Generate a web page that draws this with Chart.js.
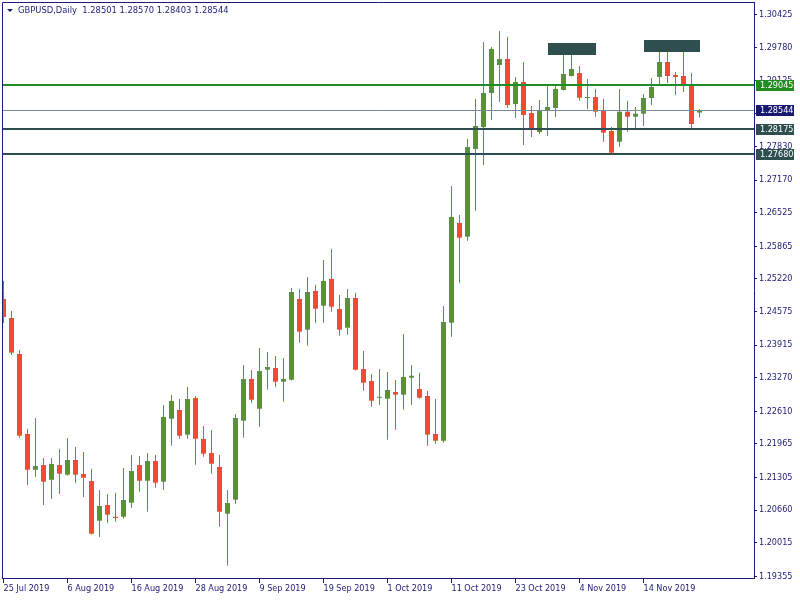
<!DOCTYPE html>
<html>
<head>
<meta charset="utf-8">
<script src="https://cdn.jsdelivr.net/npm/chart.js@4.4.1/dist/chart.umd.min.js"></script>
<style>
html, body { margin: 0; padding: 0; background: #fff; }
</style>
</head>
<body>
<canvas id="myChart" width="800" height="600"></canvas>
<script>
const symbolTitle = 'GBPUSD,Daily  1.28501 1.28570 1.28403 1.28544';

const dates = [
	'25 Jul 2019', '26 Jul 2019', '29 Jul 2019', '30 Jul 2019', '31 Jul 2019',
	'1 Aug 2019', '2 Aug 2019', '5 Aug 2019', '6 Aug 2019', '7 Aug 2019', '8 Aug 2019', '9 Aug 2019',
	'12 Aug 2019', '13 Aug 2019', '14 Aug 2019', '15 Aug 2019', '16 Aug 2019', '19 Aug 2019', '20 Aug 2019',
	'21 Aug 2019', '22 Aug 2019', '23 Aug 2019', '26 Aug 2019', '27 Aug 2019', '28 Aug 2019', '29 Aug 2019',
	'30 Aug 2019', '2 Sep 2019', '3 Sep 2019', '4 Sep 2019', '5 Sep 2019', '6 Sep 2019', '9 Sep 2019',
	'10 Sep 2019', '11 Sep 2019', '12 Sep 2019', '13 Sep 2019', '16 Sep 2019', '17 Sep 2019', '18 Sep 2019',
	'19 Sep 2019', '20 Sep 2019', '23 Sep 2019', '24 Sep 2019', '25 Sep 2019', '26 Sep 2019', '27 Sep 2019',
	'30 Sep 2019', '1 Oct 2019', '2 Oct 2019', '3 Oct 2019', '4 Oct 2019', '7 Oct 2019', '8 Oct 2019',
	'9 Oct 2019', '10 Oct 2019', '11 Oct 2019', '14 Oct 2019', '15 Oct 2019', '16 Oct 2019', '17 Oct 2019',
	'18 Oct 2019', '21 Oct 2019', '22 Oct 2019', '23 Oct 2019', '24 Oct 2019', '25 Oct 2019', '28 Oct 2019',
	'29 Oct 2019', '30 Oct 2019', '31 Oct 2019', '1 Nov 2019', '4 Nov 2019', '5 Nov 2019', '6 Nov 2019',
	'7 Nov 2019', '8 Nov 2019', '11 Nov 2019', '12 Nov 2019', '13 Nov 2019', '14 Nov 2019', '15 Nov 2019',
	'18 Nov 2019', '19 Nov 2019', '20 Nov 2019', '21 Nov 2019', '22 Nov 2019', '25 Nov 2019'
];

const opens = [
	1.24824, 1.24449, 1.23739, 1.22162, 1.21457, 1.21550, 1.21260, 1.21550, 1.21359, 1.21649,
	1.21373, 1.21235, 1.20452, 1.20761, 1.20530, 1.20530, 1.20807, 1.21550, 1.21240, 1.21629,
	1.21221, 1.22463, 1.22635, 1.22148, 1.22871, 1.22063, 1.21787, 1.21511, 1.20590, 1.20866,
	1.22424, 1.23246, 1.22660, 1.23430, 1.23463, 1.23193, 1.23232, 1.24824, 1.24219, 1.24982,
	1.24692, 1.25218, 1.24627, 1.24258, 1.24844, 1.23443, 1.23207, 1.22877, 1.22858, 1.22990,
	1.22937, 1.23272, 1.23049, 1.22911, 1.22162, 1.22029, 1.24357, 1.26323, 1.26053, 1.27782,
	1.28216, 1.28887, 1.29439, 1.29557, 1.28670, 1.29104, 1.28492, 1.28117, 1.28532, 1.28591,
	1.28946, 1.29222, 1.29281, 1.28788, 1.28808, 1.28532, 1.28137, 1.27926, 1.28518, 1.28419,
	1.28478, 1.28788, 1.29202, 1.29498, 1.29242, 1.29222, 1.29044, 1.28501
];
const highs = [
	1.25179, 1.24585, 1.23818, 1.22260, 1.22477, 1.21688, 1.21688, 1.21866, 1.22083, 1.21905,
	1.21807, 1.21471, 1.21057, 1.20978, 1.20998, 1.21491, 1.21747, 1.21728, 1.21787, 1.21747,
	1.22733, 1.22931, 1.22852, 1.23088, 1.22911, 1.22319, 1.22240, 1.21747, 1.21057, 1.22556,
	1.23522, 1.23424, 1.23858, 1.23779, 1.23700, 1.23660, 1.25041, 1.25021, 1.25258, 1.25100,
	1.25593, 1.25810, 1.24903, 1.25021, 1.24942, 1.23798, 1.23345, 1.23443, 1.23384, 1.23226,
	1.24134, 1.23522, 1.23365, 1.23009, 1.22852, 1.24686, 1.27053, 1.26481, 1.27979, 1.28768,
	1.29893, 1.29794, 1.30109, 1.29991, 1.29202, 1.29498, 1.28630, 1.28749, 1.29044, 1.29064,
	1.29754, 1.29715, 1.29419, 1.29163, 1.28966, 1.28768, 1.28216, 1.28966, 1.28729, 1.28611,
	1.28867, 1.29183, 1.29833, 1.29695, 1.29301, 1.29695, 1.29281, 1.28570
];
const lows = [
	1.24351, 1.23720, 1.22089, 1.21156, 1.21319, 1.20761, 1.20880, 1.20978, 1.21339, 1.21201,
	1.20919, 1.20179, 1.20130, 1.20412, 1.20432, 1.20491, 1.20708, 1.21024, 1.20629, 1.21102,
	1.21057, 1.21931, 1.22069, 1.22069, 1.21556, 1.21714, 1.21379, 1.20333, 1.19564, 1.20787,
	1.22089, 1.22779, 1.22305, 1.23035, 1.23094, 1.22799, 1.23216, 1.23962, 1.23903, 1.24357,
	1.24357, 1.24574, 1.24100, 1.24120, 1.23414, 1.23015, 1.22700, 1.22739, 1.22049, 1.22246,
	1.22641, 1.22739, 1.22858, 1.21931, 1.21970, 1.21990, 1.24080, 1.25145, 1.25974, 1.26565,
	1.27467, 1.28354, 1.28709, 1.28591, 1.28394, 1.27861, 1.28019, 1.28078, 1.28039, 1.28413,
	1.28936, 1.29212, 1.28735, 1.28577, 1.28419, 1.27926, 1.27664, 1.27828, 1.28123, 1.28196,
	1.28236, 1.28650, 1.29064, 1.29084, 1.28847, 1.28906, 1.28196, 1.28403
];
const closes = [
	1.24469, 1.23765, 1.22128, 1.21457, 1.21530, 1.21221, 1.21570, 1.21379, 1.21649, 1.21359,
	1.21300, 1.20195, 1.20742, 1.20570, 1.20505, 1.20860, 1.21432, 1.21240, 1.21629, 1.21201,
	1.22497, 1.22812, 1.22128, 1.22852, 1.22069, 1.21773, 1.21576, 1.20629, 1.20801, 1.22477,
	1.23246, 1.22838, 1.23404, 1.23483, 1.23193, 1.23246, 1.24962, 1.24179, 1.24962, 1.24633,
	1.25179, 1.24672, 1.24219, 1.24844, 1.23430, 1.23173, 1.22818, 1.22897, 1.23029, 1.22937,
	1.23286, 1.23311, 1.22877, 1.22148, 1.22029, 1.24370, 1.26441, 1.26033, 1.27822, 1.28236,
	1.28887, 1.29754, 1.29557, 1.28650, 1.29104, 1.28453, 1.28196, 1.28532, 1.28611, 1.28966,
	1.29261, 1.29360, 1.28794, 1.28808, 1.28518, 1.28104, 1.27709, 1.28518, 1.28419, 1.28478,
	1.28788, 1.29005, 1.29498, 1.29222, 1.29202, 1.29025, 1.28275, 1.28544
];

// right axis labels (MT4 style, unevenly rounded)
const yTickLabels = [
	'1.30425', '1.29780', '1.29125', '1.28475', '1.27830', '1.27170', '1.26525', '1.25865', '1.25220',
	'1.24575', '1.23915', '1.23270', '1.22610', '1.21965', '1.21305', '1.20660', '1.20015', '1.19355'
];

// horizontal levels drawn on chart
const levelPrices = [1.29045, 1.28175, 1.27680];
// resistance boxes: candle index from/to, price top/bottom
const zoneFrom = [68, 80];
const zoneTo = [74, 87];
const zoneTop = [1.29873, 1.29932];
const zoneBottom = [1.29636, 1.29695];

const bullColor = '#5b9132';
const bearColor = '#f14b27';
const axisColor = '#1b1b78';
const levelColors = ['#228b22', '#2f4f4f', '#2f4f4f'];
const bidLineColor = '#7d8a96';
const bidBoxColor = '#191970';
const fontFamily = '"DejaVu Sans Condensed", "DejaVu Sans", sans-serif';

const candleColors = opens.map((o, i) => closes[i] >= o ? bullColor : bearColor);

const overlay = {
	id: 'overlay',
	afterDatasetsDraw(chart) {
		const { ctx, chartArea: a, scales: { x, y } } = chart;
		ctx.save();
		ctx.beginPath();
		ctx.rect(a.left, a.top, a.right - a.left, a.bottom - a.top);
		ctx.clip();

		// bid line
		const last = closes[closes.length - 1];
		const by = Math.round(y.getPixelForValue(last)) + 0.5;
		ctx.strokeStyle = bidLineColor;
		ctx.lineWidth = 1;
		ctx.beginPath();
		ctx.moveTo(a.left, by);
		ctx.lineTo(a.right, by);
		ctx.stroke();

		levelPrices.forEach((p, i) => {
			const py = Math.round(y.getPixelForValue(p));
			ctx.strokeStyle = levelColors[i];
			ctx.lineWidth = 2;
			ctx.beginPath();
			ctx.moveTo(a.left, py);
			ctx.lineTo(a.right, py);
			ctx.stroke();
		});

		ctx.fillStyle = '#2f4f4f';
		zoneFrom.forEach((f, i) => {
			const x0 = Math.round(x.getPixelForValue(f));
			const x1 = Math.round(x.getPixelForValue(zoneTo[i]));
			const y0 = Math.round(y.getPixelForValue(zoneTop[i]));
			const y1 = Math.round(y.getPixelForValue(zoneBottom[i]));
			ctx.fillRect(x0, y0, x1 - x0, y1 - y0);
		});
		ctx.restore();
	},
	afterDraw(chart) {
		const { ctx, chartArea: a, scales: { y } } = chart;
		ctx.save();

		// left and top border of the chart window
		ctx.strokeStyle = axisColor;
		ctx.lineWidth = 1;
		ctx.beginPath();
		ctx.moveTo(2.5, a.bottom + 1);
		ctx.lineTo(2.5, 2.5);
		ctx.lineTo(a.right, 2.5);
		ctx.stroke();

		// price tags on right axis
		ctx.font = '9px ' + fontFamily;
		ctx.textBaseline = 'middle';
		const tags = levelPrices.map((p, i) => [p, levelColors[i]]);
		tags.push([closes[closes.length - 1], bidBoxColor]);
		tags.forEach(([p, c]) => {
			const py = Math.round(y.getPixelForValue(p));
			ctx.fillStyle = c;
			ctx.fillRect(a.right + 2, py - 5, 38, 11);
			ctx.fillStyle = '#ffffff';
			ctx.fillText(p.toFixed(5), a.right + 6, py + 0.5);
		});

		// symbol header
		ctx.fillStyle = axisColor;
		ctx.beginPath();
		ctx.moveTo(7, 9);
		ctx.lineTo(13, 9);
		ctx.lineTo(10, 12);
		ctx.closePath();
		ctx.fill();
		ctx.font = '9.3px ' + fontFamily;
		ctx.fillText(symbolTitle, 18, 11);
		ctx.restore();
	}
};

const ctx = document.getElementById('myChart');

new Chart(ctx, {
	type: 'bar',
	data: {
		datasets: [{
			data: opens.map((o, i) => ({ x: i, y: [lows[i], highs[i]] })),
			backgroundColor: candleColors,
			barThickness: 1,
			grouped: false,
			inflateAmount: 0
		}, {
			data: opens.map((o, i) => ({ x: i, y: [o, closes[i]] })),
			backgroundColor: candleColors,
			barThickness: 5,
			minBarLength: 1,
			grouped: false,
			inflateAmount: 0
		}]
	},
	options: {
		responsive: false,
		animation: false,
		layout: {
			padding: { left: 3, top: 2, right: 0, bottom: 0 }
		},
		plugins: {
			legend: { display: false },
			tooltip: { enabled: false }
		},
		scales: {
			x: {
				type: 'linear',
				offset: false,
				min: -0.0625,
				max: 93.8125,
				afterFit: function(scale) {
					scale.height = 22;
					scale.paddingLeft = 0;
					scale.paddingRight = 0;
				},
				afterBuildTicks: function(scale) {
					scale.ticks = dates.map((d, i) => ({ value: i })).filter(t => t.value % 8 === 0);
				},
				ticks: {
					autoSkip: false,
					maxRotation: 0,
					align: 'start',
					padding: 0,
					color: axisColor,
					font: { family: fontFamily, size: 9 },
					callback: function(value) {
						return dates[value];
					}
				},
				grid: {
					offset: false,
					drawOnChartArea: false,
					tickLength: 5,
					color: axisColor
				},
				border: { color: axisColor }
			},
			y: {
				position: 'right',
				min: 1.19322,
				max: 1.30681,
				afterFit: function(scale) {
					scale.width = 46;
					scale.paddingTop = 0;
					scale.paddingBottom = 0;
				},
				afterBuildTicks: function(scale) {
					scale.ticks = yTickLabels.map(t => ({ value: parseFloat(t) }));
				},
				ticks: {
					autoSkip: false,
					padding: 2,
					color: axisColor,
					font: { family: fontFamily, size: 9 },
					callback: function(value) {
						return value.toFixed(5);
					}
				},
				grid: {
					drawOnChartArea: false,
					tickLength: 3,
					color: axisColor
				},
				border: { color: axisColor }
			}
		}
	},
	plugins: [overlay]
});
</script>
</body>
</html>
